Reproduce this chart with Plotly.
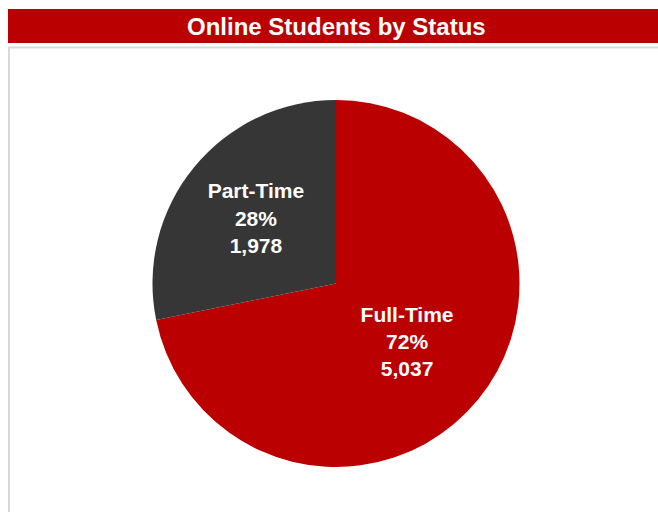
import plotly.graph_objects as go

title = "Online Students by Status"
labels = ["Full-Time", "Part-Time"]
values = [5037, 1978]
colors = ["#BA0000", "#363636"]

W, H = 658, 512
fig = go.Figure()

fig.add_trace(go.Pie(
    labels=labels,
    values=values,
    sort=False,
    direction="clockwise",
    rotation=0,
    marker=dict(colors=colors, line=dict(width=0)),
    texttemplate="<b>%{label}<br>%{percent:.0%}<br>%{value:,}</b>",
    textposition="inside",
    insidetextorientation="horizontal",
    textfont=dict(family="Arial, Liberation Sans, sans-serif", size=21, color="white"),
    hoverinfo="label+value+percent",
    showlegend=False,
    domain=dict(x=[152 / W, 520 / W], y=[1 - 467 / H, 1 - 100 / H]),
))

# header bar
fig.add_shape(type="rect", xref="paper", yref="paper",
              x0=8 / W, x1=1, y0=1 - 43 / H, y1=1 - 9 / H,
              fillcolor="#BA0000", line=dict(width=0), layer="below")
# panel border lines
fig.add_shape(type="line", xref="paper", yref="paper",
              x0=8 / W, x1=1, y0=1 - 47.5 / H, y1=1 - 47.5 / H,
              line=dict(color="#D9D9D9", width=2))
fig.add_shape(type="line", xref="paper", yref="paper",
              x0=9 / W, x1=9 / W, y0=0, y1=1 - 47.5 / H,
              line=dict(color="#D9D9D9", width=2))

fig.add_annotation(text="<b>" + title + "</b>", xref="paper", yref="paper",
                   x=336 / W, y=1 - 26 / H, xanchor="center", yanchor="middle",
                   showarrow=False,
                   font=dict(family="Arial, Liberation Sans, sans-serif", size=24, color="white"))

fig.update_layout(
    width=W, height=H,
    margin=dict(l=0, r=0, t=0, b=0),
    paper_bgcolor="white",
    plot_bgcolor="white",
)

fig.write_html(
    "out.html",
    config={"displayModeBar": False},
    post_script="document.body.style.margin='0';document.body.style.overflow='hidden';",
)
